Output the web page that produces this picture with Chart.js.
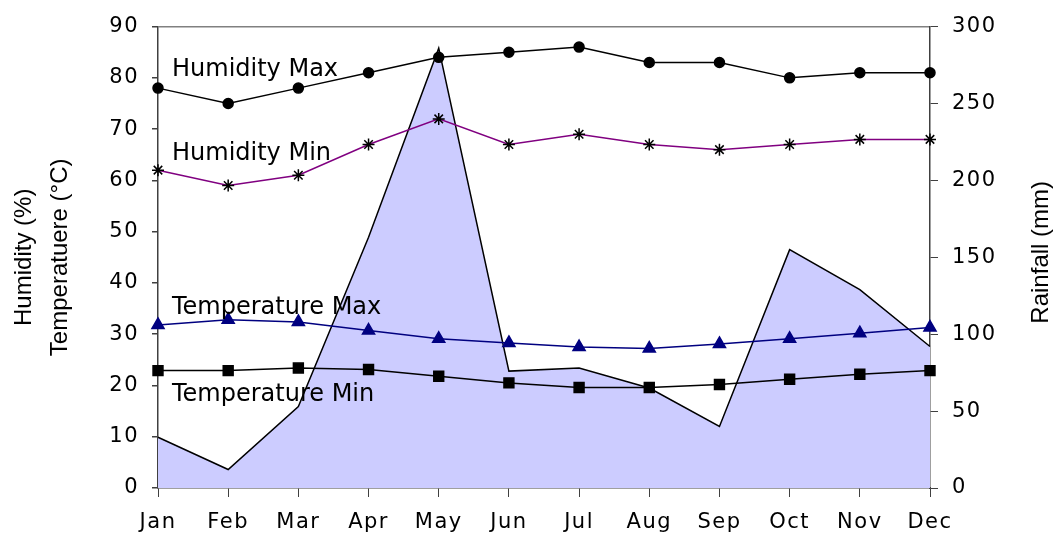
<!DOCTYPE html>
<html>
<head>
<meta charset="utf-8">
<title>Climate chart</title>
<script src="https://cdn.jsdelivr.net/npm/chart.js@4.4.1/dist/chart.umd.min.js"></script>
<style>
  html, body { margin: 0; padding: 0; background: #fff; }
  #wrap { width: 1053px; height: 535px; }
</style>
</head>
<body>
<div id="wrap"><canvas id="chart" width="1053" height="535"></canvas></div>
<script>
// data
const months = ['Jan', 'Feb', 'Mar', 'Apr', 'May', 'Jun', 'Jul', 'Aug', 'Sep', 'Oct', 'Nov', 'Dec'];
const rainfall = [33, 12, 53, 163, 286, 76, 78, 65, 40, 155, 129, 92];
const humidityMax = [78, 75, 78, 81, 84, 85, 86, 83, 83, 80, 81, 81];
const humidityMin = [62, 59, 61, 67, 72, 67, 69, 67, 66, 67, 68, 68];
const tempMax = [31.8, 32.8, 32.4, 30.7, 29.1, 28.3, 27.5, 27.2, 28.1, 29.1, 30.2, 31.3];
const tempMin = [22.9, 22.9, 23.4, 23.1, 21.8, 20.5, 19.6, 19.6, 20.2, 21.2, 22.2, 22.9];

const leftMax = 90, leftStep = 10;
const rightMax = 300, rightStep = 50;

// series names written inside the plot, with the left-axis value of their baseline
const seriesNames = ['Humidity Max', 'Humidity Min', 'Temperature Max', 'Temperature Min'];
const nameBaselines = [80.4, 63.9, 34, 17];

const leftTitle = ['Humidity (%)', 'Temperatuere (\u00b0C)'];
const rightTitle = 'Rainfall (mm)';

const AXIS = '#404040';
const tickFont = { family: 'DejaVu Sans', size: 21 };

// text drawn on the plot + right title (reads bottom to top)
const textPlugin = {
  id: 'texts',
  beforeDraw(chart) { chart.ctx.letterSpacing = '0px'; },
  afterDatasetsDraw(chart) {
    const ctx = chart.ctx, y = chart.scales.y;
    ctx.save();
    ctx.letterSpacing = '0px';
    ctx.font = '24px "DejaVu Sans"';
    ctx.fillStyle = '#000';
    ctx.textAlign = 'left';
    ctx.textBaseline = 'alphabetic';
    seriesNames.forEach((n, i) => {
      ctx.fillText(n, chart.chartArea.left + 14, y.getPixelForValue(nameBaselines[i]));
    });
    ctx.restore();
    // tick labels are drawn after this, a little wider like the original
    ctx.letterSpacing = '1.5px';
  },
  afterDraw(chart) {
    const ctx = chart.ctx, a = chart.chartArea;
    ctx.save();
    ctx.letterSpacing = '0px';
    ctx.translate(chart.width - 12, (a.top + a.bottom) / 2 - 5);
    ctx.rotate(-Math.PI / 2);
    ctx.font = '24px "Liberation Sans"';
    ctx.fillStyle = '#000';
    ctx.textAlign = 'center';
    ctx.textBaseline = 'middle';
    ctx.fillText(rightTitle, 0, 0);
    ctx.restore();
  }
};

const ctx = document.getElementById('chart').getContext('2d');
new Chart(ctx, {
  type: 'line',
  data: {
    labels: months,
    datasets: [
      {
        label: 'Humidity Max', data: humidityMax, yAxisID: 'y',
        borderColor: '#000', borderWidth: 1.5, tension: 0, fill: false, clip: false,
        pointStyle: 'circle', pointRadius: 5, pointBackgroundColor: '#000', pointBorderColor: '#000'
      },
      {
        label: 'Humidity Min', data: humidityMin, yAxisID: 'y',
        borderColor: '#800080', borderWidth: 1.5, tension: 0, fill: false, clip: false,
        pointStyle: 'star', pointRadius: 6, pointBorderColor: '#000', pointBorderWidth: 1.5
      },
      {
        label: 'Temperature Max', data: tempMax, yAxisID: 'y',
        borderColor: '#000080', borderWidth: 1.5, tension: 0, fill: false, clip: false,
        pointStyle: 'triangle', pointRadius: 7, pointBackgroundColor: '#000080', pointBorderColor: '#000080'
      },
      {
        label: 'Temperature Min', data: tempMin, yAxisID: 'y',
        borderColor: '#000', borderWidth: 1.5, tension: 0, fill: false, clip: false,
        pointStyle: 'rect', pointRadius: 7, pointBackgroundColor: '#000', pointBorderColor: '#000'
      },
      {
        label: 'Rainfall', data: rainfall, yAxisID: 'y2', order: 10,
        borderColor: '#000', borderWidth: 1.5, tension: 0,
        fill: 'origin', backgroundColor: '#CCCCFF', pointRadius: 0
      }
    ]
  },
  options: {
    responsive: false,
    animation: false,
    layout: { padding: { top: 22, left: 0, right: 0, bottom: 0 } },
    plugins: { legend: { display: false }, tooltip: { enabled: false } },
    scales: {
      x: {
        offset: false,
        grid: { display: true, drawOnChartArea: false, drawTicks: true, tickLength: 9, tickColor: AXIS, offset: false },
        border: { display: true, color: AXIS, width: 1.5 },
        ticks: { font: tickFont, color: '#000', padding: 13, maxRotation: 0, autoSkip: false, z: 1 },
        afterFit: s => { s.height = 47; }
      },
      y: {
        position: 'left', min: 0, max: leftMax,
        grid: {
          drawOnChartArea: true, drawTicks: true, tickLength: 6, tickColor: AXIS,
          color: c => (c.tick && c.tick.value === leftMax ? '#808080' : 'rgba(0,0,0,0)'),
          lineWidth: 1.5
        },
        border: { display: true, color: AXIS, width: 1.5 },
        ticks: { stepSize: leftStep, font: tickFont, color: '#000', padding: 13, z: 1 },
        title: {
          display: true, text: leftTitle, color: '#000',
          font: { family: 'Liberation Sans', size: 24, lineHeight: 1.5 },
          padding: { top: 6, bottom: 0 }
        },
        afterFit: s => { s.width = 158; }
      },
      y2: {
        position: 'right', min: 0, max: rightMax,
        grid: { drawOnChartArea: false, drawTicks: true, tickLength: 8, tickColor: AXIS },
        border: { display: true, color: AXIS, width: 1.5 },
        ticks: { stepSize: rightStep, font: tickFont, color: '#000', padding: 14, z: 1 },
        afterFit: s => { s.width = 123; }
      }
    }
  },
  plugins: [textPlugin]
});
</script>
</body>
</html>
